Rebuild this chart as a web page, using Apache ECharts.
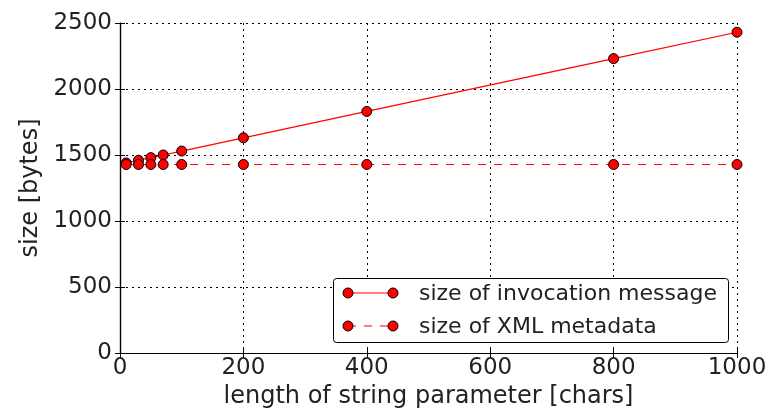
<!DOCTYPE html>
<html><head><meta charset="utf-8">
<script src="https://cdn.jsdelivr.net/npm/echarts@6/dist/echarts.min.js"></script>
<style>html,body{margin:0;padding:0;background:#fff}#c{width:772px;height:414px}</style>
</head><body><div id="c"></div>
<script>
const lengths = [10, 30, 50, 70, 100, 200, 400, 800, 1000];
const invocationSize = [1440, 1460, 1480, 1500, 1530, 1630, 1830, 2230, 2430];
const metadataSize = [1428, 1428, 1428, 1428, 1428, 1428, 1428, 1428, 1428];
const seriesNames = ['size of invocation message', 'size of XML metadata'];
const xTicks = [0, 200, 400, 600, 800, 1000];
const yTicks = [0, 500, 1000, 1500, 2000, 2500];

const FONT = 'DejaVu Sans';
const chart = echarts.init(document.getElementById('c'), null, {renderer: 'canvas'});
const pts = a => lengths.map((x, i) => [x, a[i]]);
const axisCommon = {
  axisLine: {show: true, lineStyle: {color: '#000', width: 1.2}},
  axisTick: {show: true, inside: true, length: 5, lineStyle: {color: '#000', width: 1}},
};
const fmt = v => String(v);
const option = {
  animation: false,
  backgroundColor: '#fff',
  grid: {left: 120, right: 35, top: 23, bottom: 61, containLabel: false, outerBoundsMode: 'none'},
  xAxis: [
    Object.assign({type: 'value', min: xTicks[0], max: xTicks[xTicks.length-1], interval: 200, position: 'bottom',
      name: 'length of string parameter [chars]', nameLocation: 'middle', nameGap: 32,
      nameTextStyle: {fontFamily: FONT, fontSize: 24, color: '#222'},
      axisLabel: {fontFamily: FONT, fontSize: 23, color: '#222', margin: 4, formatter: fmt},
      splitLine: {show: true, lineStyle: {color: '#000', type: [2, 4], width: 1}}}, axisCommon),
    Object.assign({type: 'value', min: xTicks[0], max: xTicks[xTicks.length-1], interval: 200, position: 'top',
      axisLabel: {show: false}, splitLine: {show: false}}, axisCommon)
  ],
  yAxis: [
    Object.assign({type: 'value', min: yTicks[0], max: yTicks[yTicks.length-1], interval: 500, position: 'left',
      name: 'size [bytes]', nameLocation: 'middle', nameGap: 77, nameRotate: 90,
      nameTextStyle: {fontFamily: FONT, fontSize: 24, color: '#222'},
      axisLabel: {fontFamily: FONT, fontSize: 23, color: '#222', margin: 8, formatter: fmt},
      splitLine: {show: true, lineStyle: {color: '#000', type: [2, 4], width: 1}}}, axisCommon),
    Object.assign({type: 'value', min: yTicks[0], max: yTicks[yTicks.length-1], interval: 500, position: 'right',
      axisLabel: {show: false}, splitLine: {show: false}}, axisCommon)
  ],
  series: [
    {name: seriesNames[0], type: 'line', data: pts(invocationSize), symbol: 'circle', symbolSize: 10,
      lineStyle: {color: '#ff0000', width: 1.2}, itemStyle: {color: '#ff0000', borderColor: '#000', borderWidth: 1}, z: 3},
    {name: seriesNames[1], type: 'line', data: pts(metadataSize), symbol: 'circle', symbolSize: 10,
      lineStyle: {color: '#ff0000', width: 1.2, type: [8, 8]}, itemStyle: {color: '#ff0000', borderColor: '#000', borderWidth: 1}, z: 3}
  ],
  graphic: [
    {type: 'rect', shape: {x: 333.5, y: 278.5, width: 395, height: 64, r: 3}, style: {fill: '#fff', stroke: '#000', lineWidth: 1}, z: 10},
    {type: 'line', shape: {x1: 348, y1: 293, x2: 393, y2: 293}, style: {stroke: '#ff0000', lineWidth: 1.2}, z: 11},
    {type: 'line', shape: {x1: 348, y1: 326, x2: 393, y2: 326}, style: {stroke: '#ff0000', lineWidth: 1.2, lineDash: [8, 8]}, z: 11},
    {type: 'circle', shape: {cx: 348, cy: 293, r: 5}, style: {fill: '#ff0000', stroke: '#000', lineWidth: 1}, z: 12},
    {type: 'circle', shape: {cx: 393, cy: 293, r: 5}, style: {fill: '#ff0000', stroke: '#000', lineWidth: 1}, z: 12},
    {type: 'circle', shape: {cx: 348, cy: 326, r: 5}, style: {fill: '#ff0000', stroke: '#000', lineWidth: 1}, z: 12},
    {type: 'circle', shape: {cx: 393, cy: 326, r: 5}, style: {fill: '#ff0000', stroke: '#000', lineWidth: 1}, z: 12},
    {type: 'text', x: 419, y: 294, style: {text: seriesNames[0], fontFamily: FONT, fontSize: 22, fill: '#222', verticalAlign: 'middle'}, z: 12},
    {type: 'text', x: 419, y: 327, style: {text: seriesNames[1], fontFamily: FONT, fontSize: 22, fill: '#222', verticalAlign: 'middle'}, z: 12}
  ]
};
chart.setOption(option);
</script></body></html>
